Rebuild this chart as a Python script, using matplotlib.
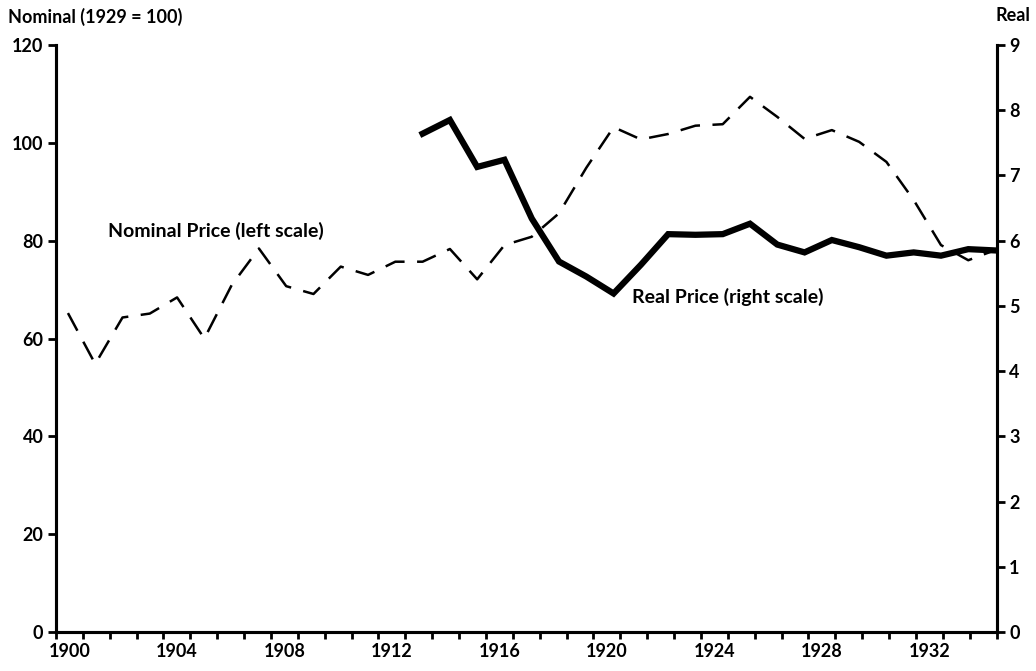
import numpy as np
import matplotlib
matplotlib.use('Agg')
import matplotlib.pyplot as plt

# Data
YEARS = list(range(1900, 1935))
NOMINAL = [65.2, 54.8, 64.3, 65.1, 68.4, 60.0, 70.9, 78.4, 70.7, 69.1,
           74.7, 73.0, 75.7, 75.7, 78.3, 72.1, 79.1, 80.8, 85.6, 94.9,
           103.2, 100.7, 101.8, 103.5, 103.8, 109.4, 105.3, 100.8, 102.6, 100.2,
           96.1, 88.3, 79.1, 76.0, 78.1]
REAL_YEARS = list(range(1913, 1935))
REAL = [7.64, 7.85, 7.13, 7.24, 6.34, 5.68, 5.45, 5.19, 5.63, 6.10,
        6.09, 6.10, 6.26, 5.94, 5.82, 6.01, 5.90, 5.77, 5.82, 5.77,
        5.87, 5.85]
LABEL_YEARS = list(range(1900, 1933, 4))

FONT = ['Lato', 'DejaVu Sans']
plt.rcParams['font.family'] = FONT

fig = plt.figure(figsize=(10.36, 6.71), dpi=100)
ax = fig.add_axes([0.054, 0.058, 0.908, 0.875])
ax2 = ax.twinx()

ax.plot(YEARS, NOMINAL, color='black', lw=1.8, dashes=(8, 5))
ax2.plot(REAL_YEARS, REAL, color='black', lw=4.5, solid_joinstyle='miter')

x0, x1 = 1899.56, 1934.04
ax.set_xlim(x0, x1)
ax.set_ylim(0, 120)
ax2.set_ylim(0, 9)

# tick marks evenly along the axis, labels centred between them
edges = np.linspace(x0, x1, 36)
ax.set_xticks(edges)
ax.set_xticklabels([])
mids = [(edges[i] + edges[i + 1]) / 2 for i in range(35)]
ax.set_xticks([mids[y - 1900] for y in LABEL_YEARS], minor=True)
ax.set_xticklabels([str(y) for y in LABEL_YEARS], minor=True)
ax.tick_params(axis='x', which='major', direction='out', length=5, width=2)
ax.tick_params(axis='x', which='minor', length=0, pad=8, labelsize=13)

ax.set_yticks(range(0, 121, 20))
ax.tick_params(axis='y', direction='out', length=6, width=2, labelsize=13, pad=3)
ax2.set_yticks(range(0, 10))
ax2.tick_params(axis='y', direction='out', length=6, width=2, labelsize=13, pad=3)

for a in (ax, ax2):
    a.spines['top'].set_visible(False)
    for s in ('left', 'right', 'bottom'):
        a.spines[s].set_linewidth(2.2)
for lab in ax.get_xticklabels(minor=True) + ax.get_yticklabels() + ax2.get_yticklabels():
    lab.set_fontweight('bold')

fig.text(0.008, 0.975, 'Nominal (1929 = 100)', fontsize=13, fontweight='bold', va='center', ha='left')
fig.text(0.995, 0.977, 'Real', fontsize=13, fontweight='bold', va='center', ha='right')
ax.text(1901.47, 82.0, 'Nominal Price (left scale)', fontsize=14, fontweight='bold', va='center', ha='left')
ax.text(1920.66, 68.5, 'Real Price (right scale)', fontsize=14, fontweight='bold', va='center', ha='left')

fig.savefig('out.png', dpi=100)
